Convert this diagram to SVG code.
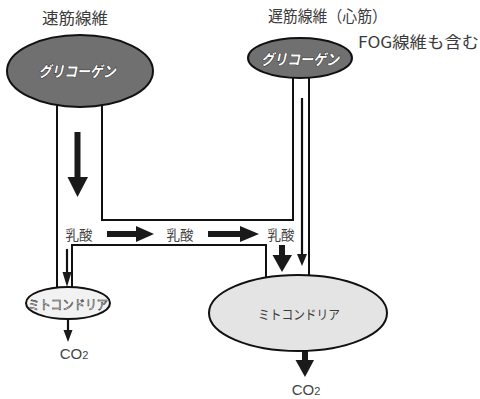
<svg xmlns="http://www.w3.org/2000/svg" width="480" height="399" viewBox="0 0 480 399">
<style>
text{font-family:"Noto Sans CJK JP","Noto Sans",sans-serif;}
.lbl{fill:#3a3a3a;font-size:16px;}
.small{fill:#444;font-size:13.5px;text-anchor:middle;dominant-baseline:central;}
.pipe{fill:none;stroke:#111;stroke-width:2;}
.arr{fill:#1a1a1a;}
.thin{stroke:#111;stroke-width:2.2;fill:none;}
.gly{fill:#707070;stroke:#111;stroke-width:2;}
.glyt{fill:#fff;stroke:#222;stroke-width:0.9;font-size:15px;font-weight:bold;font-style:italic;text-anchor:middle;dominant-baseline:central;paint-order:stroke;}
.mito{stroke:#111;stroke-width:2;}
.co2{font-size:15px;fill:#444;text-anchor:middle;font-family:"Liberation Sans",sans-serif;}
</style>
<rect width="480" height="399" fill="#fff"/>
<g id="connectors">
  <polyline class="pipe" points="57,100 57,292"/>
  <polyline class="pipe" points="102,100 102,220 293,220 293,70"/>
  <polyline class="pipe" points="309,70 309,282"/>
  <polyline class="pipe" points="72,292 72,245 266,245 266,282"/>
  <rect class="arr" x="74.5" y="132" width="6" height="46"/>
  <polygon class="arr" points="67.5,177 88,177 77.5,197"/>
  <rect class="arr" x="107" y="231" width="30" height="6"/>
  <polygon class="arr" points="136,226 136,242 154,234"/>
  <rect class="arr" x="208" y="231" width="33" height="6"/>
  <polygon class="arr" points="240,226 240,242 259,234"/>
  <rect class="arr" x="279" y="245" width="6" height="11"/>
  <polygon class="arr" points="272.5,255 292,255 282,272"/>
  <line class="thin" x1="302" y1="98" x2="302" y2="256"/>
  <polygon class="arr" points="297,254 307,254 302,266"/>
  <line class="thin" x1="67" y1="249" x2="67" y2="274"/>
  <polygon class="arr" points="62.5,272 71.5,272 67,287"/>
  <line class="thin" x1="68" y1="318" x2="68" y2="332"/>
  <polygon class="arr" points="63.5,330 72.5,330 68,342"/>
  <rect class="arr" x="302" y="349" width="6" height="12"/>
  <polygon class="arr" points="295.5,360 314,360 305,377"/>
</g>
<g id="title-fast"><text class="lbl" x="42" y="24" textLength="66" lengthAdjust="spacingAndGlyphs">速筋線維</text></g>
<g id="title-slow"><text class="lbl" x="268" y="22" textLength="119" lengthAdjust="spacingAndGlyphs">遅筋線維（心筋）</text></g>
<g id="note-fog"><text class="lbl" x="358" y="48" textLength="121" lengthAdjust="spacingAndGlyphs">FOG線維も含む</text></g>
<g id="glycogen-fast">
  <ellipse class="gly" cx="80" cy="71" rx="73" ry="36"/>
  <text class="glyt" x="77" y="70" textLength="77" lengthAdjust="spacingAndGlyphs">グリコーゲン</text>
</g>
<g id="glycogen-slow">
  <ellipse class="gly" cx="300" cy="58" rx="52" ry="20"/>
  <text class="glyt" x="300" y="58" textLength="78" lengthAdjust="spacingAndGlyphs">グリコーゲン</text>
</g>
<g id="lactate-1"><text class="small" x="79" y="234">乳酸</text></g>
<g id="lactate-2"><text class="small" x="180" y="234">乳酸</text></g>
<g id="lactate-3"><text class="small" x="281" y="234">乳酸</text></g>
<g id="mito-fast">
  <ellipse class="mito" cx="68" cy="303" rx="42" ry="16" fill="#f2f2f2"/>
  <text x="68" y="303" font-size="13" text-anchor="middle" dominant-baseline="central" fill="#fff" stroke="#333" stroke-width="0.6" textLength="80" lengthAdjust="spacingAndGlyphs">ミトコンドリア</text>
</g>
<g id="mito-slow">
  <ellipse class="mito" cx="298" cy="313" rx="89" ry="38" fill="#e4e4e4"/>
  <text x="299" y="313" font-size="13" fill="#3a3a3a" text-anchor="middle" dominant-baseline="central" textLength="82" lengthAdjust="spacingAndGlyphs">ミトコンドリア</text>
</g>
<g id="co2-fast"><text class="co2" x="74" y="359">CO<tspan font-size="11">2</tspan></text></g>
<g id="co2-slow"><text class="co2" x="306" y="395">CO<tspan font-size="11">2</tspan></text></g>
</svg>
